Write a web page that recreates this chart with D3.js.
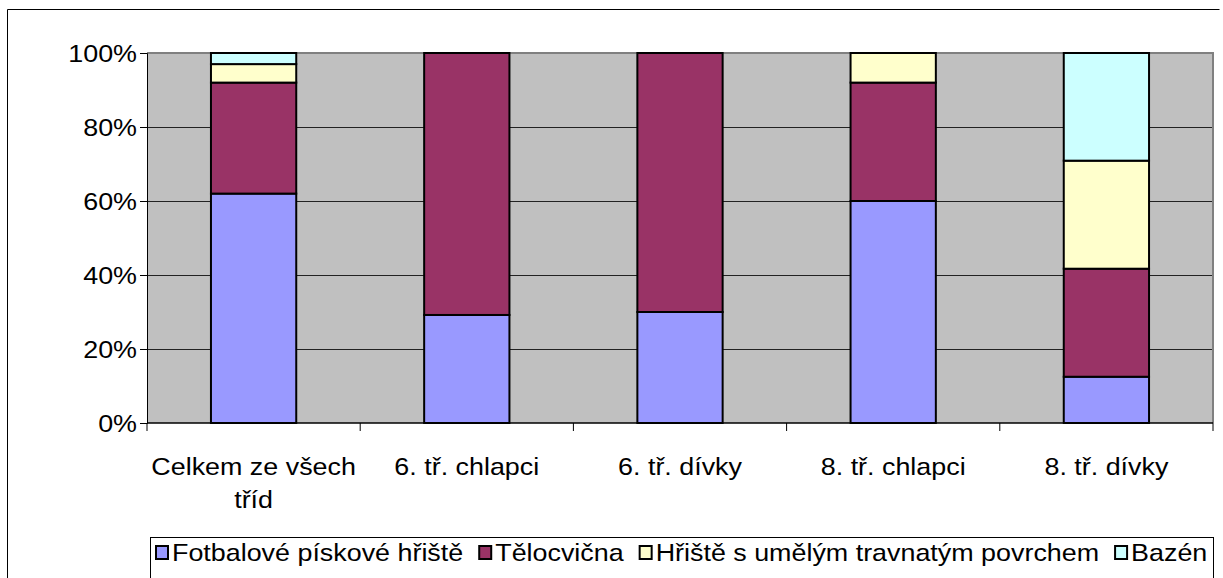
<!DOCTYPE html>
<html>
<head>
<meta charset="utf-8">
<script src="https://cdn.jsdelivr.net/npm/d3@7"></script>
<style>
  body { margin: 0; background: #fff; }
  svg { display: block; font-family: "Liberation Sans", Arial, sans-serif; }
</style>
</head>
<body>
<div id="chart"></div>
<script>
const categories = [["Celkem ze všech", "tříd"], ["6. tř. chlapci"], ["6. tř. dívky"], ["8. tř. chlapci"], ["8. tř. dívky"]];
const seriesNames = ["Fotbalové pískové hřiště", "Tělocvična", "Hřiště s umělým travnatým povrchem", "Bazén"];
const fotbal = [62, 29.2, 30, 60, 12.5];
const telocvicna = [30, 70.8, 70, 32, 29.2];
const hriste = [5, 0, 0, 8, 29.2];
const bazen = [3, 0, 0, 0, 29.1];
const yTicks = [0, 20, 40, 60, 80, 100];
const colors = ["#9999FF", "#993366", "#FFFFCC", "#CCFFFF"];

const w = 1223, h = 578;
const padL = 147, padR = 1213, padT = 53, padB = 423;
const sx = 1.12; // text in the original is a bit wide

const svg = d3.select("#chart").append("svg")
    .attr("width", w)
    .attr("height", h);

// text helper: wide text anchored at x,y
function wideText(g, x, y, anchor, txt) {
    return g.append("text")
        .attr("transform", `translate(${x},${y}) scale(${sx},1)`)
        .attr("text-anchor", anchor)
        .attr("font-size", 24)
        .attr("fill", "#000")
        .text(txt);
}

// outer chart border (right/bottom are off the picture)
svg.append("path")
    .attr("d", `M7.5,${h + 5} V9.5 H1219.5`)
    .attr("fill", "none")
    .attr("stroke", "#000")
    .attr("stroke-width", 1);

const keys = categories.map((c, i) => i);
const xScale = d3.scaleBand().domain(keys).range([padL, padR]).paddingInner(0.6).paddingOuter(0.3);
const xTick = d3.scaleBand().domain(keys).range([padL, padR]);
const yScale = d3.scaleLinear().domain([0, 100]).range([padB, padT]);

svg.append("rect")
    .attr("x", padL).attr("y", padT)
    .attr("width", padR - padL).attr("height", padB - padT)
    .attr("fill", "#C0C0C0");

// gridlines
svg.append("g").selectAll("line")
    .data(yTicks.filter(d => d > 0 && d < 100))
    .join("line")
    .attr("x1", padL).attr("x2", padR)
    .attr("y1", d => Math.round(yScale(d)) + 0.5)
    .attr("y2", d => Math.round(yScale(d)) + 0.5)
    .attr("stroke", "#222").attr("stroke-width", 1);

// plot frame top/right
svg.append("path")
    .attr("d", `M${padL},${padT} H${padR} V${padB}`)
    .attr("fill", "none").attr("stroke", "#808080").attr("stroke-width", 2);

// stacked bars
const rows = keys.map(i => ({ i, f: fotbal[i], t: telocvicna[i], hr: hriste[i], b: bazen[i] }));
const stack = d3.stack().keys(["f", "t", "hr", "b"])(rows);

stack.forEach((layer, si) => {
    svg.append("g").selectAll("rect")
        .data(layer.filter(d => d[1] - d[0] > 0))
        .join("rect")
        .attr("x", d => xScale(d.data.i))
        .attr("y", d => yScale(d[1]))
        .attr("width", xScale.bandwidth())
        .attr("height", d => yScale(d[0]) - yScale(d[1]))
        .attr("fill", colors[si])
        .attr("stroke", "#000")
        .attr("stroke-width", 2);
});

// y axis
const yAxis = d3.axisLeft(yScale).tickValues(yTicks).tickSize(7).tickFormat("");
const gy = svg.append("g").attr("transform", `translate(${padL},0)`).call(yAxis);
gy.select(".domain").attr("stroke", "#000");
gy.selectAll(".tick line").attr("stroke", "#000");
yTicks.forEach(v => wideText(svg, 137, yScale(v) + 8.5, "end", v + "%"));

// x axis
const gx = svg.append("g").attr("transform", `translate(0,${padB})`);
gx.append("line").attr("x1", padL).attr("x2", padR).attr("y1", 0).attr("y2", 0)
    .attr("stroke", "#000").attr("stroke-width", 1.5);
gx.selectAll(".tk").data(keys.concat([keys.length]))
    .join("line")
    .attr("x1", d => d < keys.length ? xTick(d) : padR)
    .attr("x2", d => d < keys.length ? xTick(d) : padR)
    .attr("y1", 0).attr("y2", 8).attr("stroke", "#000");

keys.forEach(d => {
    categories[d].forEach((line, li) => {
        wideText(gx, xTick(d) + xTick.bandwidth() / 2, 52 + li * 33, "middle", line);
    });
});

// legend
const lg = svg.append("g");
lg.append("rect").attr("x", 150.5).attr("y", 537.5)
    .attr("width", 1063).attr("height", 60)
    .attr("fill", "#fff").attr("stroke", "#000");
let lx = 156;
seriesNames.forEach((name, i) => {
    lg.append("rect").attr("x", lx).attr("y", 546).attr("width", 12).attr("height", 13)
        .attr("fill", colors[i]).attr("stroke", "#000").attr("stroke-width", 2);
    const t = wideText(lg, lx + 16, 561, "start", name);
    lx += 16 + t.node().getComputedTextLength() * sx + 16;
});
</script>
</body>
</html>
